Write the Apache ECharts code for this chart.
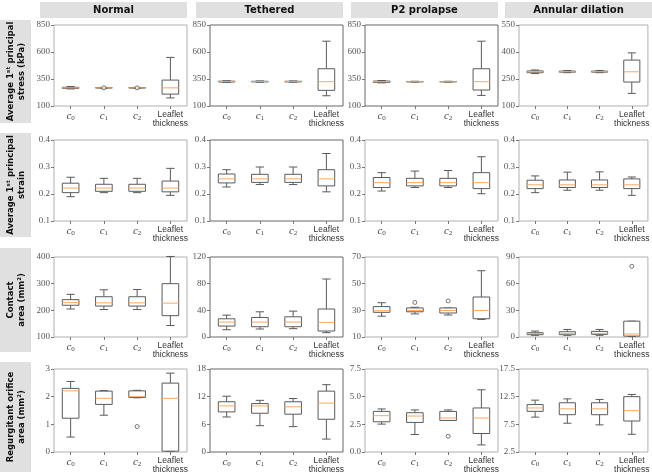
<!DOCTYPE html>
<html><head><meta charset="utf-8">
<script src="https://cdn.jsdelivr.net/npm/echarts@6/dist/echarts.min.js"></script>
<style>html,body{margin:0;padding:0;background:#fff}#c{width:652px;height:474px}</style>
</head><body><div id="c"></div><script>
// ---------- data ----------
const categories = ['c0', 'c1', 'c2', 'Leaflet\nthickness'];
const conditions = ['Normal', 'Tethered', 'P2 prolapse', 'Annular dilation'];
const metricLabels = ['Average 1ˢᵗ principal\nstress (kPa)', 'Average 1ˢᵗ principal\nstrain', 'Contact\narea (mm²)', 'Regurgitant orifice\narea (mm²)'];

// each row: [min, Q1, median, Q3, max] for c0, c1, c2, leaflet thickness
const stressNormal = [[258,263,268,273,280],[264,266,268,270,272],[264,266,268,270,272],[175,210,268,340,550]];
const stressTethered = [[318,322,326,330,334],[320,323,326,329,332],[320,323,326,329,332],[195,245,325,445,700]];
const stressP2 = [[314,319,325,331,336],[321,323,325,327,329],[321,323,325,327,329],[198,248,325,445,700]];
const stressAnnular = [[280,285,290,295,300],[285,288,291,294,297],[285,288,291,294,297],[170,233,290,355,395]];

const strainNormal = [[0.19,0.205,0.222,0.24,0.262],[0.205,0.21,0.222,0.236,0.258],[0.205,0.21,0.222,0.236,0.258],[0.195,0.208,0.222,0.248,0.295]];
const strainTethered = [[0.226,0.241,0.256,0.274,0.29],[0.235,0.243,0.256,0.273,0.30],[0.235,0.243,0.256,0.273,0.30],[0.208,0.23,0.256,0.29,0.35]];
const strainP2 = [[0.211,0.224,0.242,0.261,0.279],[0.224,0.23,0.242,0.258,0.285],[0.224,0.23,0.242,0.258,0.287],[0.201,0.22,0.242,0.279,0.338]];
const strainAnnular = [[0.205,0.22,0.234,0.251,0.267],[0.214,0.224,0.234,0.252,0.281],[0.214,0.224,0.234,0.252,0.282],[0.195,0.22,0.234,0.256,0.263]];

const contactNormal = [[205,219,229,240,260],[203,216,228,251,277],[203,216,228,251,278],[143,180,227,300,402]];
const contactTethered = [[10.9,16.4,22.4,27.3,32.8],[12,15.4,22.4,29.3,37.8],[12.5,15.4,22.4,30.3,38.8],[6.5,9,22,42,87]];
const contactP2 = [[25.6,28.5,29.7,32.8,35.7],[27.3,28.9,29.9,31.8,32.3],[26.5,28,29.9,31.8,31.8],[23.2,23.7,29.9,40,59.7]];
const contactAnnular = [[1.9,2.6,3.7,4.8,6.7],[1.9,2.6,3.7,5.9,8.5],[1.9,3,4.1,6.3,8.5],[0.5,1,3.3,17.8,17.8]];

const orificeNormal = [[0.54,1.22,2.21,2.3,2.55],[1.33,1.72,1.94,2.2,2.22],[1.96,1.97,2.0,2.21,2.23],[0.02,0.03,1.94,2.49,2.85]];
const orificeTethered = [[7.6,8.7,10,10.9,12.1],[5.7,8.4,10,10.5,11.2],[5.5,8.2,9.8,10.9,11.6],[2.8,7.1,10.6,13.2,14.6]];
const orificeP2 = [[2.52,2.73,3.28,3.67,3.89],[1.58,2.67,3.25,3.55,3.8],[2.85,2.85,3.07,3.67,3.8],[0.64,1.67,3.07,3.98,5.62]];
const orificeAnnular = [[8.8,9.85,10.46,11.07,11.87],[7.7,9.24,10.3,11.4,12.1],[7.4,9.24,10.3,11.4,12.0],[5.7,8.1,9.97,12.5,12.9]];

// outliers: [category index, value]
const outStressNormal = [[1,268],[2,268]];
const outContactP2 = [[1,35.9],[2,37.1]];
const outContactAnnular = [[3,79.5]];
const outOrificeNormal = [[2,0.92]];
const outOrificeP2 = [[2,1.42]];

// y tick values
const ticksStress = [100,350,600,850];
const ticksStressAnnular = [100,250,400,550];
const ticksStrain = [0.1,0.2,0.3,0.4];
const ticksContactNormal = [100,200,300,400];
const ticksContactTethered = [0,40,80,120];
const ticksContactP2 = [10,30,50,70];
const ticksContactAnnular = [0,30,60,90];
const ticksOrificeNormal = [0,1,2,3];
const ticksOrificeTethered = [0,6,12,18];
const ticksOrificeP2 = [0,2.5,5,7.5];
const ticksOrificeAnnular = [2.5,7.5,12.5,17.5];

// ---------- panel assembly ----------
const panels = [
  [stressNormal, outStressNormal, ticksStress, 0],
  [stressTethered, [], ticksStress, 0],
  [stressP2, [], ticksStress, 0],
  [stressAnnular, [], ticksStressAnnular, 0],
  [strainNormal, [], ticksStrain, 1],
  [strainTethered, [], ticksStrain, 1],
  [strainP2, [], ticksStrain, 1],
  [strainAnnular, [], ticksStrain, 1],
  [contactNormal, [], ticksContactNormal, 0],
  [contactTethered, [], ticksContactTethered, 0],
  [contactP2, outContactP2, ticksContactP2, 0],
  [contactAnnular, outContactAnnular, ticksContactAnnular, 0],
  [orificeNormal, outOrificeNormal, ticksOrificeNormal, 0],
  [orificeTethered, [], ticksOrificeTethered, 0],
  [orificeP2, outOrificeP2, ticksOrificeP2, 1],
  [orificeAnnular, [], ticksOrificeAnnular, 1]
];

const colLeft = [54, 210, 365, 519];
const colWidth = 133;
const rowTop = [25, 140, 257, 369];
const rowHeight = [81, 81, 80, 83];
const rowBox = [[20,123],[133,237],[248,352],[362,472]];

const grids = [], xAxes = [], yAxes = [], series = [], graphics = [];

function renderBox(params, api) {
  const x = api.value(0);
  const p = [1,2,3,4,5].map(i => api.coord([x, api.value(i)]));
  const cx = p[0][0];
  const bw = api.size([1, 0])[0] * 0.5;
  const cw = bw * 0.5;
  const st = {stroke: '#5a5a5a', lineWidth: 1, fill: null};
  return {type: 'group', children: [
    {type: 'line', shape: {x1: cx, y1: p[0][1], x2: cx, y2: p[1][1]}, style: st},
    {type: 'line', shape: {x1: cx, y1: p[3][1], x2: cx, y2: p[4][1]}, style: st},
    {type: 'line', shape: {x1: cx - cw/2, y1: p[0][1], x2: cx + cw/2, y2: p[0][1]}, style: st},
    {type: 'line', shape: {x1: cx - cw/2, y1: p[4][1], x2: cx + cw/2, y2: p[4][1]}, style: st},
    {type: 'rect', shape: {x: cx - bw/2, y: p[3][1], width: bw, height: p[1][1] - p[3][1]}, style: {stroke: '#5a5a5a', fill: '#fff', lineWidth: 1}},
    {type: 'line', shape: {x1: cx - bw/2, y1: p[2][1], x2: cx + bw/2, y2: p[2][1]}, style: {stroke: '#f7a860', lineWidth: 1}}
  ]};
}

panels.forEach((pn, k) => {
  const r = Math.floor(k / 4), c = k % 4;
  const [vals, outs, ticks, dec] = pn;
  const dark = (c === 1) || (r === 0 && c === 2);
  grids.push({left: colLeft[c], top: rowTop[r], width: colWidth, height: rowHeight[r],
    show: true, borderColor: dark ? '#666' : '#b0b0b0', borderWidth: 1, backgroundColor: 'transparent'});
  xAxes.push({type: 'category', gridIndex: k, data: categories, boundaryGap: true,
    axisLine: {show: false},
    axisTick: {show: true, alignWithLabel: true, length: 3, lineStyle: {color: '#777'}},
    axisLabel: {margin: 4, interval: 0,
      formatter: v => v.startsWith('c') ? '{i|c}{s|' + v.slice(1) + '}' : '{t|Leaflet}\n{t|thickness}',
      rich: {
        i: {fontFamily: 'Liberation Serif', fontStyle: 'italic', fontSize: 11, color: '#444', lineHeight: 12},
        s: {fontFamily: 'Liberation Serif', fontSize: 7, color: '#444', verticalAlign: 'bottom', lineHeight: 7},
        t: {fontFamily: 'Liberation Sans', fontSize: 8.5, color: '#333', lineHeight: 9}
      }},
    splitLine: {show: false}});
  yAxes.push({type: 'value', gridIndex: k, min: ticks[0], max: ticks[ticks.length - 1],
    axisLine: {show: false},
    axisTick: {show: true, length: 3, customValues: ticks, lineStyle: {color: '#777'}},
    axisLabel: {customValues: ticks, margin: 4, fontFamily: 'Liberation Serif', fontSize: 9, color: '#555',
      formatter: v => Number(v).toFixed(dec)},
    splitLine: {show: false}});
  series.push({type: 'custom', xAxisIndex: k, yAxisIndex: k, renderItem: renderBox,
    encode: {x: 0, y: [1,2,3,4,5]}, silent: true,
    data: vals.map((v, i) => [i].concat(v))});
  if (outs.length) {
    series.push({type: 'scatter', xAxisIndex: k, yAxisIndex: k, symbol: 'circle', symbolSize: 4,
      itemStyle: {color: '#fff', borderColor: '#555', borderWidth: 1}, silent: true, data: outs});
  }
});

conditions.forEach((t, c) => {
  const x0 = colLeft[c] - 14, w = colWidth + 14;
  graphics.push({type: 'rect', shape: {x: x0, y: 2, width: w, height: 16}, style: {fill: '#e0e0e0'}});
  graphics.push({type: 'text', x: x0 + w / 2, y: 10,
    style: {text: t, fontFamily: 'DejaVu Sans', fontWeight: 'bold', fontSize: 10, fill: '#111',
      textAlign: 'center', textVerticalAlign: 'middle'}});
});
metricLabels.forEach((t, r) => {
  const [y0, y1] = rowBox[r];
  graphics.push({type: 'rect', shape: {x: 0, y: y0, width: 31, height: y1 - y0}, style: {fill: '#e0e0e0'}});
  graphics.push({type: 'text', x: 16, y: (y0 + y1) / 2, rotation: Math.PI / 2,
    style: {text: t, fontFamily: 'DejaVu Sans', fontWeight: 'bold', fontSize: 8.5, lineHeight: 11, fill: '#111',
      textAlign: 'center', textVerticalAlign: 'middle'}});
});

const chart = echarts.init(document.getElementById('c'), null, {renderer: 'canvas'});
chart.setOption({animation: false, grid: grids, xAxis: xAxes, yAxis: yAxes, series: series, graphic: graphics});
</script></body></html>
